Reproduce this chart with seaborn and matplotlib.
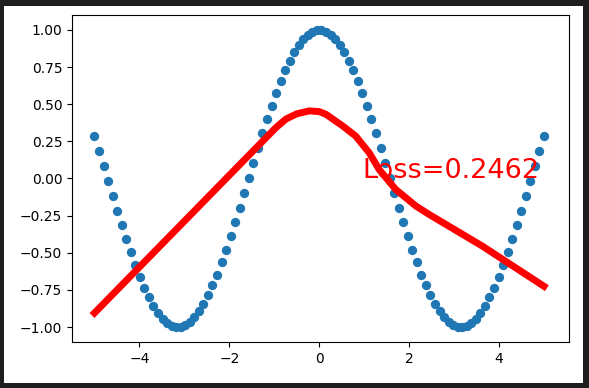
import matplotlib
matplotlib.use("Agg")
import matplotlib.pyplot as plt
import matplotlib.patches as mpatches
import seaborn as sns
import pandas as pd

# scatter data (x from -5 to 5, 100 points)
x_half = [-5.000, -4.899, -4.798, -4.697, -4.596, -4.495, -4.394, -4.293, -4.192, -4.091,
          -3.990, -3.889, -3.788, -3.687, -3.586, -3.485, -3.384, -3.283, -3.182, -3.081,
          -2.980, -2.879, -2.778, -2.677, -2.576, -2.475, -2.374, -2.273, -2.172, -2.071,
          -1.970, -1.869, -1.768, -1.667, -1.566, -1.465, -1.364, -1.263, -1.162, -1.061,
          -0.960, -0.859, -0.758, -0.657, -0.556, -0.455, -0.354, -0.253, -0.152, -0.051]
y_half = [0.284, 0.186, 0.085, -0.015, -0.116, -0.216, -0.313, -0.407, -0.497, -0.582,
          -0.661, -0.734, -0.799, -0.855, -0.903, -0.942, -0.971, -0.990, -0.999, -0.998,
          -0.987, -0.966, -0.935, -0.894, -0.844, -0.786, -0.719, -0.646, -0.565, -0.479,
          -0.388, -0.294, -0.196, -0.096, 0.005, 0.106, 0.206, 0.303, 0.398, 0.488,
          0.574, 0.653, 0.727, 0.792, 0.850, 0.898, 0.938, 0.968, 0.989, 0.999]
x_pts = x_half + [-v for v in reversed(x_half)]
y_pts = y_half + list(reversed(y_half))

# fitted line (red)
x_line = [-5.0, -0.96, -0.74, -0.5, -0.22, 0.0, 0.15, 0.52, 0.81, 1.11, 1.33,
          1.70, 2.15, 2.44, 3.63, 5.0]
y_line = [-0.905, 0.343, 0.40, 0.435, 0.455, 0.45, 0.432, 0.354, 0.286, 0.174, 0.062,
          -0.073, -0.185, -0.241, -0.455, -0.725]

loss_text = "Loss=0.2462"

dark = "#1e1e1e"
fig = plt.figure(figsize=(5.89, 3.88), dpi=100, facecolor=dark)
fig.patches.append(mpatches.Rectangle((0.0068, 0.0129), 0.983, 0.9716,
                                      transform=fig.transFigure, facecolor="white",
                                      edgecolor="none", zorder=-10))
ax = fig.add_axes([0.1222, 0.1186, 0.8433, 0.8427])
ax.set_zorder(1)

df_s = pd.DataFrame({"x": x_pts, "y": y_pts})
df_l = pd.DataFrame({"x": x_line, "y": y_line})
sns.scatterplot(data=df_s, x="x", y="y", color="#1f77b4", s=45, linewidth=0, ax=ax)
sns.lineplot(data=df_l, x="x", y="y", color="red", lw=5, sort=False, ax=ax)

ax.text(0.95, 0.0, loss_text, fontsize=19.5, color="red")
ax.set_xlim(-5.5, 5.55)
ax.set_ylim(-1.1, 1.1)
ax.set_xticks([-4, -2, 0, 2, 4])
ax.set_yticks([-1.0, -0.75, -0.5, -0.25, 0.0, 0.25, 0.5, 0.75, 1.0])
ax.set_yticklabels(["\u22121.00", "\u22120.75", "\u22120.50", "\u22120.25", "0.00",
                    "0.25", "0.50", "0.75", "1.00"])
ax.set_xlabel("")
ax.set_ylabel("")
ax.tick_params(labelsize=10)

fig.savefig("out.png", dpi=100, facecolor=dark)
